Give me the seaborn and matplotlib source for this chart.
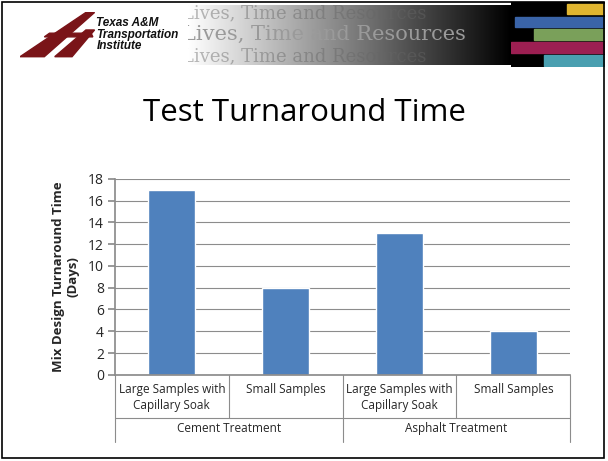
import numpy as np
import pandas as pd
import seaborn as sns
import matplotlib.pyplot as plt
from matplotlib.patches import Polygon, Rectangle

# data
treatments = ["Cement Treatment", "Cement Treatment", "Asphalt Treatment", "Asphalt Treatment"]
samples = ["Large Samples with\nCapillary Soak", "Small Samples",
           "Large Samples with\nCapillary Soak", "Small Samples"]
days = [17, 8, 13, 4]
groups = ["Cement Treatment", "Asphalt Treatment"]

df = pd.DataFrame({"pos": range(len(days)), "sample": samples,
                   "treatment": treatments, "days": days})

sns.set_theme(style="white")
plt.rcParams["font.family"] = ["Open Sans", "DejaVu Sans"]

fig = plt.figure(figsize=(6.08, 4.61), dpi=100)

# slide border
fig.patches.append(Rectangle((0.004, 0.006), 0.99, 0.99, transform=fig.transFigure,
                             fill=False, edgecolor="black", linewidth=1.2))

# header banner (gradient with slogan)
hdr = fig.add_axes([0.31, 0.86, 0.53, 0.13])
grad = np.linspace(1, 0, 256).reshape(1, -1)
hdr.imshow(grad, aspect="auto", cmap="gray", vmin=0, vmax=1, extent=[0, 1, 0, 1])
hdr.set_xlim(0, 1)
hdr.set_ylim(0, 1)
hdr.axis("off")
for yy, col, a, fs in [(0.86, "#666666", 0.45, 13), (0.5, "#9a9a9a", 1.0, 15),
                       (0.13, "#666666", 0.45, 13)]:
    hdr.text(-0.02, yy, "Lives, Time and Resources", color=col, alpha=a, fontsize=fs,
             family="DejaVu Serif", va="center", transform=hdr.transAxes, clip_on=True)

strips = fig.add_axes([0.84, 0.855, 0.155, 0.14])
strips.set_xlim(0, 1)
strips.set_ylim(0, 1)
strips.axis("off")
strips.add_patch(Rectangle((0, 0), 1, 1, color="black"))
strip_colors = ["#4a9fb0", "#9c1f52", "#7aa05a", "#3a64a8", "#e0b530"]
strip_x = [0.35, 0.0, 0.25, 0.05, 0.6]
for i, (c, x0) in enumerate(zip(strip_colors, strip_x)):
    strips.add_patch(Rectangle((x0, i * 0.2 + 0.02), 1 - x0, 0.16, color=c))

# logo
logo = fig.add_axes([0.033, 0.875, 0.285, 0.1])
logo.set_xlim(0, 1)
logo.set_ylim(0, 1)
logo.axis("off")
red = "#7a1418"
logo.add_patch(Polygon([[0.0, 0.02], [0.38, 0.98], [0.43, 0.98], [0.14, 0.02]], color=red))
logo.add_patch(Polygon([[0.2, 0.02], [0.38, 0.6], [0.43, 0.6], [0.3, 0.02]], color=red))
logo.add_patch(Polygon([[0.14, 0.45], [0.42, 0.45], [0.41, 0.53], [0.17, 0.53]], color=red))
logo.text(0.44, 0.5, "Texas A&M\nTransportation\nInstitute", fontsize=8.5, fontweight="bold",
          style="italic", color="#111111", va="center", ha="left", linespacing=0.95,
          family="Liberation Sans")

fig.text(0.5, 0.755, "Test Turnaround Time", ha="center", va="center", fontsize=22.5,
         color="black")

# chart
ax = fig.add_axes([0.189, 0.187, 0.749, 0.425])
sns.barplot(data=df, x="pos", y="days", color="#4f81bd", width=0.41, ax=ax,
            saturation=1)
ax.set_ylim(0, 18)
ax.set_xlim(-0.5, 3.5)
ax.set_yticks(range(0, 19, 2))
ax.yaxis.grid(True, color="#8c8c8c", linewidth=0.8)
ax.set_axisbelow(True)
for s in ["top", "right"]:
    ax.spines[s].set_visible(False)
ax.spines["left"].set_color("#8c8c8c")
ax.spines["bottom"].set_color("#8c8c8c")
ax.tick_params(axis="y", left=True, length=5, color="#8c8c8c", labelsize=10, pad=3)
ax.set_xticks([])
ax.set_xlabel("")
ax.set_ylabel("Mix Design Turnaround Time\n(Days)", fontsize=9.5, fontweight="bold",
              labelpad=6, linespacing=1.1)

trans = ax.get_xaxis_transform()
for i, lab in enumerate(df["sample"]):
    ax.text(i, -0.04, lab, transform=trans, ha="center", va="top", fontsize=8.5,
            linespacing=1.3)
for j, g in enumerate(groups):
    ax.text(2 * j + 0.5, -0.275, g, transform=trans, ha="center", va="center", fontsize=8.5)
for xb, ybot in [(-0.5, -0.345), (0.5, -0.22), (1.5, -0.345), (2.5, -0.22), (3.5, -0.345)]:
    ax.plot([xb, xb], [0, ybot], transform=trans, color="#8c8c8c", linewidth=0.8,
            clip_on=False)
ax.plot([-0.5, 3.5], [-0.22, -0.22], transform=trans, color="#8c8c8c", linewidth=0.8,
        clip_on=False)

fig.savefig("out.png", dpi=100)
